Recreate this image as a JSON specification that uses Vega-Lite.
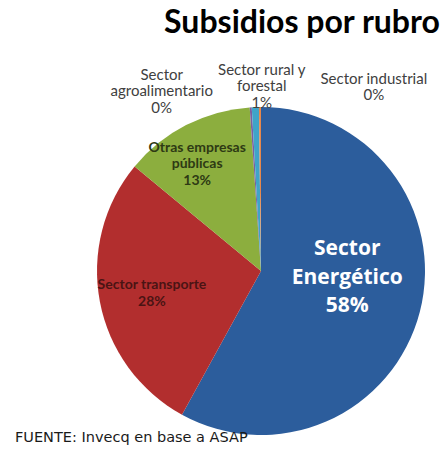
{
  "$schema": "https://vega.github.io/schema/vega-lite/v6.json",
  "background": "white",
  "padding": {"left": 15, "top": 6, "right": 0, "bottom": 0},
  "config": {"view": {"stroke": null}, "concat": {"spacing": 0}},
  "title": {
    "text": "FUENTE: Invecq en base a ASAP",
    "orient": "bottom",
    "anchor": "start",
    "frame": "group",
    "font": "DejaVu Sans",
    "fontSize": 14.5,
    "fontWeight": "normal",
    "color": "#1a1a1a",
    "offset": -4,
    "dx": -82
  },
  "vconcat": [
    {
      "width": 328,
      "height": 328,
      "title": {
        "text": "Subsidios por rubro",
        "font": "Lato",
        "fontSize": 32,
        "fontWeight": "bold",
        "color": "#000000",
        "anchor": "middle",
        "frame": "group",
        "dx": 41,
        "offset": 23
      },
      "data": {
        "values": [
          {"rubro": "Sector\nEnergético", "valor": 0.58, "orden": 1},
          {"rubro": "Sector transporte", "valor": 0.28, "orden": 2},
          {"rubro": "Otras empresas\npúblicas", "valor": 0.129, "orden": 3},
          {"rubro": "Sector\nagroalimentario", "valor": 0.002, "orden": 4},
          {"rubro": "Sector rural y\nforestal", "valor": 0.007, "orden": 5},
          {"rubro": "Sector industrial", "valor": 0.002, "orden": 6}
        ]
      },
      "transform": [
        {"calculate": "datum.rubro + '\\n' + format(datum.valor, '.0%')", "as": "etiqueta"}
      ],
      "encoding": {
        "theta": {"field": "valor", "type": "quantitative", "stack": true},
        "order": {"field": "orden", "type": "quantitative"},
        "detail": {"field": "rubro", "type": "nominal"}
      },
      "layer": [
        {
          "mark": {"type": "arc", "outerRadius": 164},
          "encoding": {
            "color": {
              "field": "rubro",
              "type": "nominal",
              "legend": null,
              "scale": {
                "domain": ["Sector\nEnergético", "Sector transporte", "Otras empresas\npúblicas", "Sector\nagroalimentario", "Sector rural y\nforestal", "Sector industrial"],
                "range": ["#2c5d9c", "#b22e2e", "#8cae3e", "#7a5fa0", "#3fa4c8", "#e8874a"]
              }
            }
          }
        },
        {
          "mark": {"type": "text", "dx": 1, "dy": -43.5, "font": "Open Sans", "fontSize": 21, "fontWeight": "bold", "color": "#ffffff", "lineBreak": "\n", "lineHeight": 28.5, "align": "center", "baseline": "middle"},
          "encoding": {
            "radius": {"value": {"expr": "datum.orden === 1 ? 88 : 0"}},
            "text": {"condition": {"test": "datum.orden === 1", "field": "etiqueta"}, "value": ""}
          }
        },
        {
          "mark": {"type": "text", "dx": 0, "dy": -6.5, "font": "Lato", "fontSize": 14, "fontWeight": "bold", "color": "#4a1414", "lineBreak": "\n", "lineHeight": 17, "align": "center", "baseline": "middle"},
          "encoding": {
            "radius": {"value": {"expr": "datum.orden === 2 ? 111 : 0"}},
            "text": {"condition": {"test": "datum.orden === 2", "field": "etiqueta"}, "value": ""}
          }
        },
        {
          "mark": {"type": "text", "dx": -9, "dy": -16.5, "font": "Lato", "fontSize": 14, "fontWeight": "bold", "color": "#2e3a14", "lineBreak": "\n", "lineHeight": 16.5, "align": "center", "baseline": "middle"},
          "encoding": {
            "radius": {"value": {"expr": "datum.orden === 3 ? 120 : 0"}},
            "text": {"condition": {"test": "datum.orden === 3", "field": "etiqueta"}, "value": ""}
          }
        },
        {
          "mark": {"type": "text", "dx": -88, "dy": -16.5, "font": "Lato", "fontSize": 15, "color": "#404040", "lineBreak": "\n", "lineHeight": 16.5, "align": "center", "baseline": "middle"},
          "encoding": {
            "radius": {"value": {"expr": "datum.orden === 4 ? 180 : 0"}},
            "text": {"condition": {"test": "datum.orden === 4", "field": "etiqueta"}, "value": ""}
          }
        },
        {
          "mark": {"type": "text", "dx": 7, "dy": -20.5, "font": "Lato", "fontSize": 15, "color": "#404040", "lineBreak": "\n", "lineHeight": 16.5, "align": "center", "baseline": "middle"},
          "encoding": {
            "radius": {"value": {"expr": "datum.orden === 5 ? 181 : 0"}},
            "text": {"condition": {"test": "datum.orden === 5", "field": "etiqueta"}, "value": ""}
          }
        },
        {
          "mark": {"type": "text", "dx": 114, "dy": -8.25, "font": "Lato", "fontSize": 15, "color": "#404040", "lineBreak": "\n", "lineHeight": 16.5, "align": "center", "baseline": "middle"},
          "encoding": {
            "radius": {"value": {"expr": "datum.orden === 6 ? 184 : 0"}},
            "text": {"condition": {"test": "datum.orden === 6", "field": "etiqueta"}, "value": ""}
          }
        }
      ]
    }
  ]
}
